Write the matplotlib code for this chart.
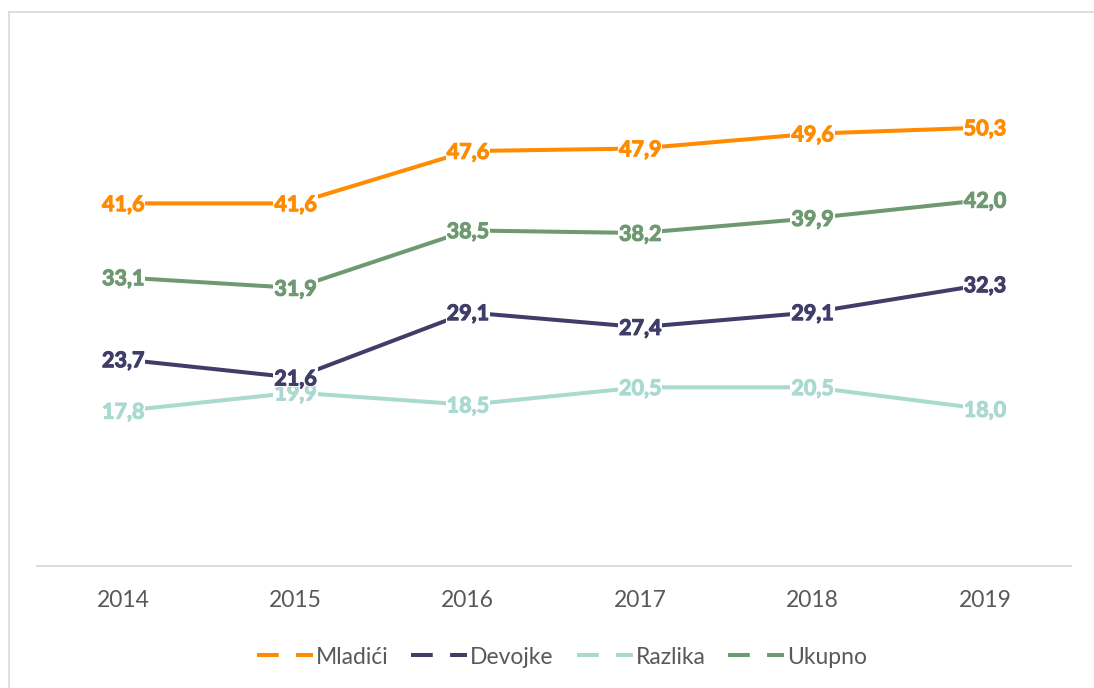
import matplotlib
matplotlib.use("Agg")
import matplotlib.pyplot as plt
from matplotlib.lines import Line2D
import matplotlib.patheffects as pe

years = ["2014", "2015", "2016", "2017", "2018", "2019"]
mladici = [41.6, 41.6, 47.6, 47.9, 49.6, 50.3]
devojke = [23.7, 21.6, 29.1, 27.4, 29.1, 32.3]
razlika = [17.8, 19.9, 18.5, 20.5, 20.5, 18.0]
ukupno = [33.1, 31.9, 38.5, 38.2, 39.9, 42.0]

series_names = ["Mladići", "Devojke", "Razlika", "Ukupno"]
series_values = [mladici, devojke, razlika, ukupno]
colors = ["#FF8C00", "#403E68", "#AADACF", "#6F9971"]
label_z = [5, 7, 6, 5]

plt.rcParams['font.family'] = ['Lato', 'DejaVu Sans']

W, H = 1094, 688
fig = plt.figure(figsize=(W / 100, H / 100), dpi=100)

# outer border (top and left)
fig.add_artist(Line2D([9 / W, 9 / W], [0, 1 - 12 / H], color="#D9D9D9", lw=1.2, transform=fig.transFigure))
fig.add_artist(Line2D([9 / W, 1], [1 - 12 / H, 1 - 12 / H], color="#D9D9D9", lw=1.2, transform=fig.transFigure))

left = 37 / W
right = 1071 / W
bottom = (H - 566) / H
top = (H - 43) / H
ax = fig.add_axes([left, bottom, right - left, top - bottom])

fs_lab = 15.5
x = list(range(len(years)))
for name, vals, c, z in zip(series_names, series_values, colors, label_z):
    ax.plot(x, vals, color=c, lw=2.9, solid_capstyle="butt", zorder=3)
    for xi, v in zip(x, vals):
        txt = f"{v:.1f}".replace(".", ",")
        common = dict(xy=(xi, v), xytext=(0, -0.36 * fs_lab), textcoords="offset points",
                      ha="center", va="baseline", fontsize=fs_lab, fontweight="bold")
        # white box that breaks the line (drawn under all label texts)
        ax.annotate(txt, color=(1, 1, 1, 0), zorder=4,
                    bbox=dict(boxstyle="square,pad=0.05", fc="white", ec="none"), **common)
        # the label text itself
        ax.annotate(txt, color=c, zorder=z,
                    path_effects=[pe.withStroke(linewidth=2.2, foreground="white"),
                                  pe.withStroke(linewidth=0.8, foreground=c)], **common)

ax.set_xlim(-0.5, len(years) - 0.5)
ax.set_ylim(0, 60)
ax.set_xticks(x)
ax.set_xticklabels(years, fontsize=16.5, color="#595959")
ax.set_yticks([])
for s in ["top", "right", "left"]:
    ax.spines[s].set_visible(False)
ax.spines["bottom"].set_color("#D9D9D9")
ax.spines["bottom"].set_linewidth(1.3)
ax.tick_params(axis="x", length=0, pad=17)

handles = [Line2D([], [], color=c, lw=2.9, dashes=(5.4, 4.3), dash_capstyle="butt") for c in colors]
fig.legend(handles, series_names, loc="center", bbox_to_anchor=(562 / W, 1 - 657 / H), ncol=4,
           frameon=False, fontsize=16.5, handlelength=2.45, handletextpad=0.12, columnspacing=1.0,
           labelcolor="#595959")

fig.savefig("out.png", dpi=100)
